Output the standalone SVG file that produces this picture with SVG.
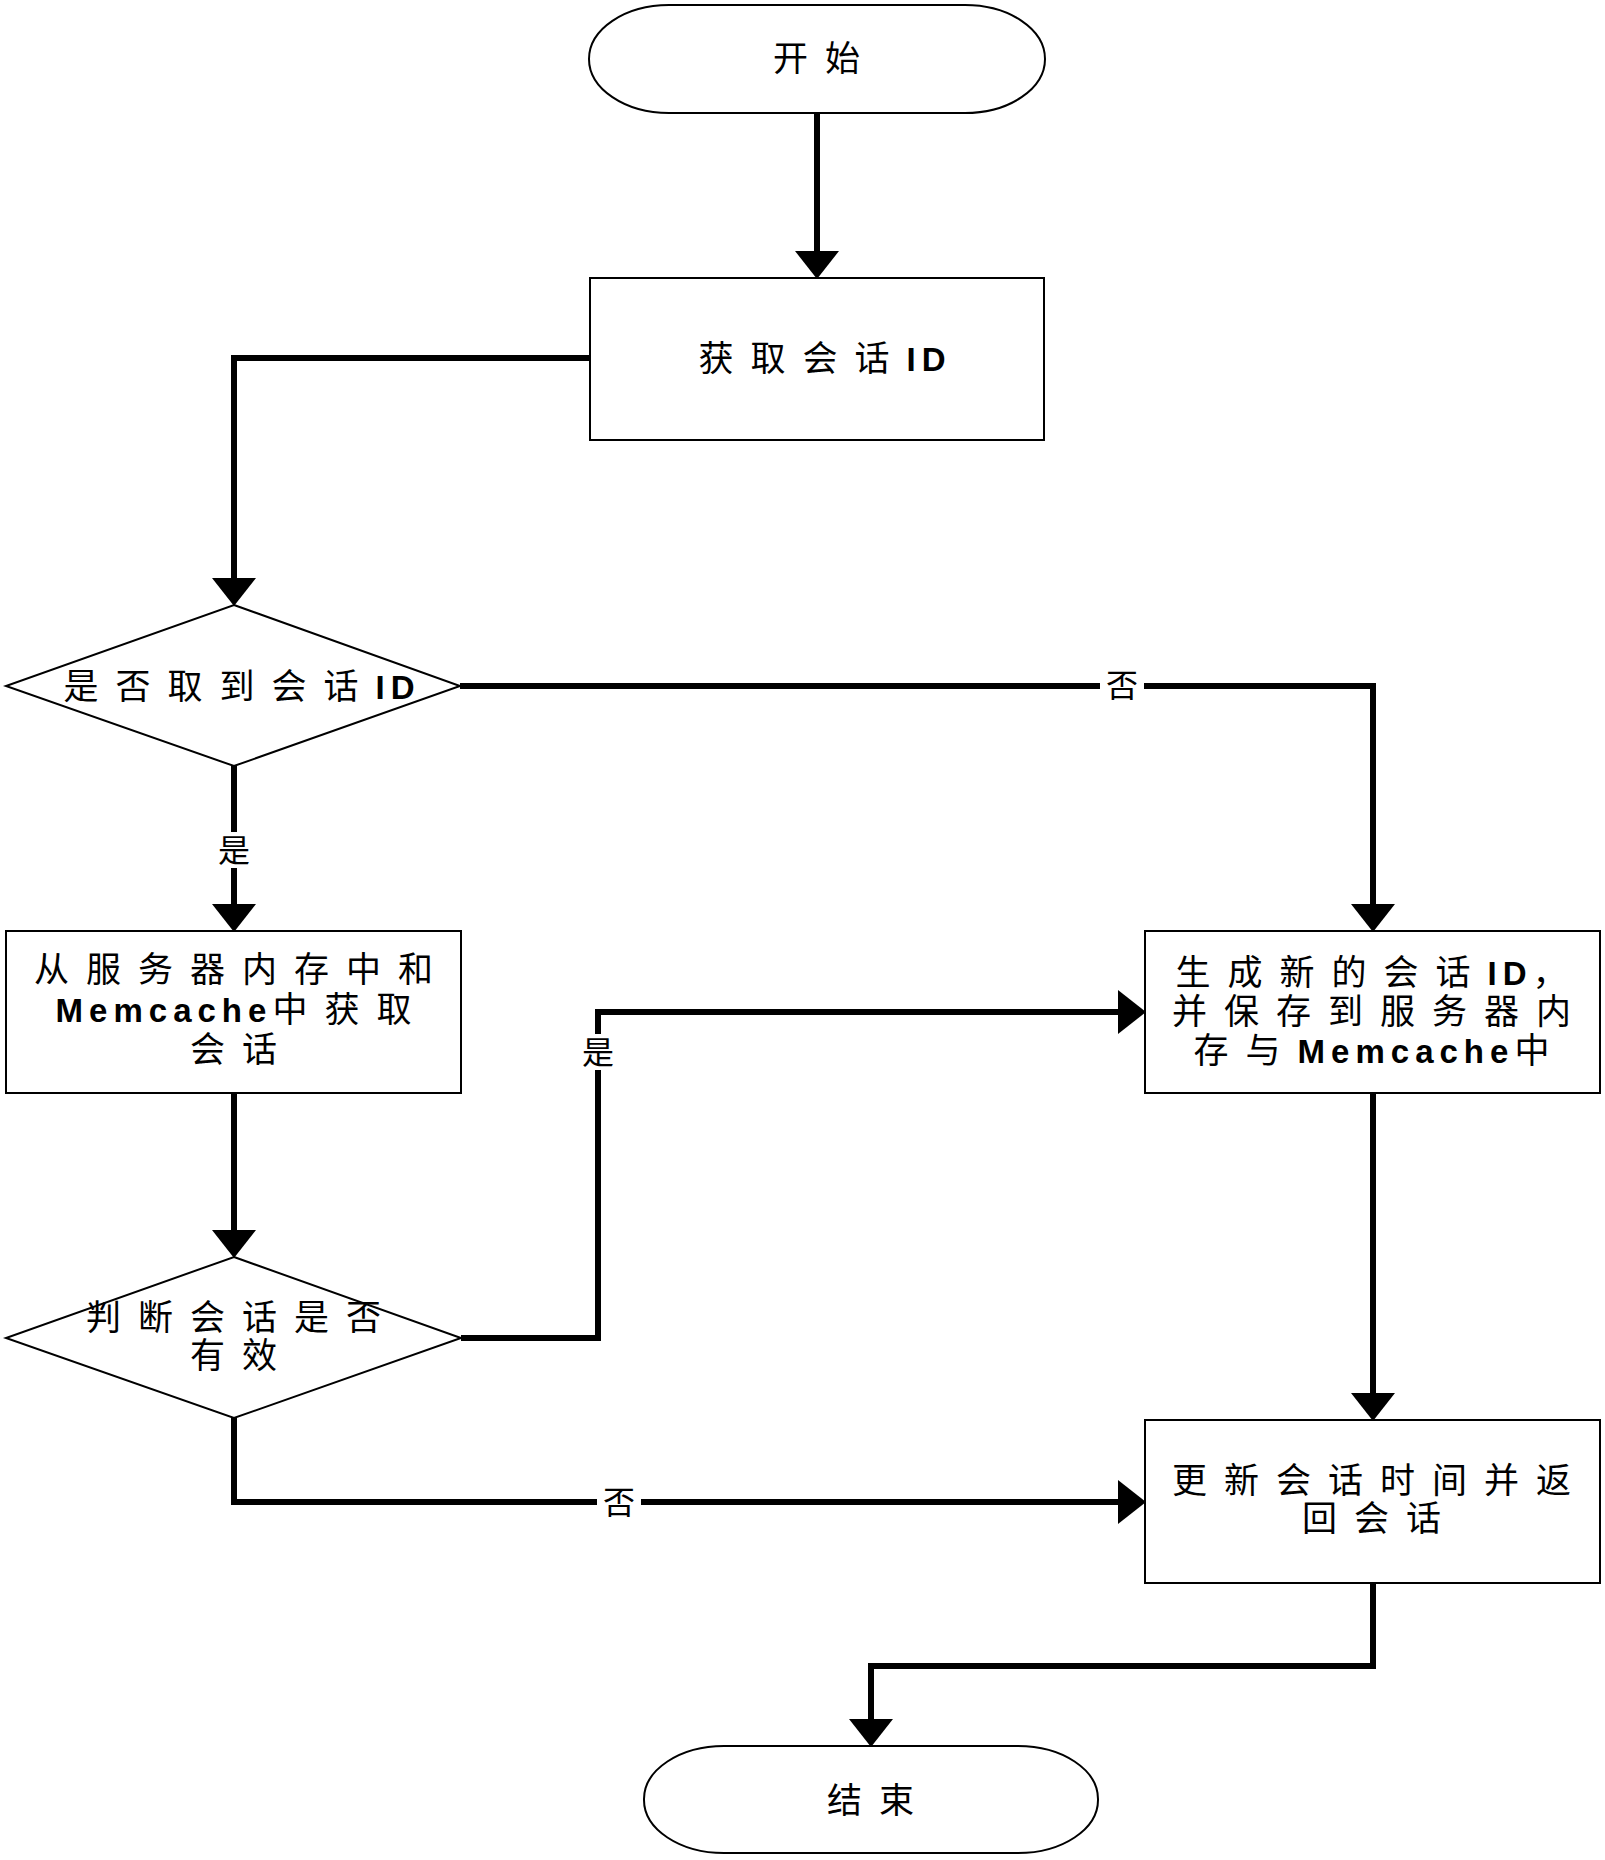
<svg xmlns="http://www.w3.org/2000/svg" width="1605" height="1860" viewBox="0 0 1605 1860">
<style>
.node{fill:#fff;stroke:#000;stroke-width:2}
.conn{fill:none;stroke:#000;stroke-width:6}
.t{font-family:"Noto Sans CJK SC","Liberation Sans",sans-serif;font-size:35px;letter-spacing:17px;fill:#000;text-anchor:middle}
.e{font-family:"Liberation Sans",Arial,sans-serif;font-weight:bold;font-size:33px;letter-spacing:6px}
.lbl{font-family:"Noto Sans CJK SC",sans-serif;font-size:32px;fill:#000;text-anchor:middle}
</style>
<defs>
<marker id="arr" markerUnits="userSpaceOnUse" markerWidth="30" markerHeight="48" refX="0" refY="24" orient="auto" viewBox="0 0 30 48">
<path d="M0,2 L28,24 L0,46 Z" fill="#000"/>
</marker>
</defs>
<rect width="1605" height="1860" fill="#fff"/>
<g id="connectors">
<path class="conn" d="M817,113 V251" marker-end="url(#arr)"/>
<path class="conn" d="M590,358 H234 V578" marker-end="url(#arr)"/>
<path class="conn" d="M460,686 H1373 V904" marker-end="url(#arr)"/>
<path class="conn" d="M234,766 V904" marker-end="url(#arr)"/>
<path class="conn" d="M234,1093 V1230" marker-end="url(#arr)"/>
<path class="conn" d="M461,1338 H598 V1012 H1118" marker-end="url(#arr)"/>
<path class="conn" d="M234,1418 V1502 H1118" marker-end="url(#arr)"/>
<path class="conn" d="M1373,1093 V1393" marker-end="url(#arr)"/>
<path class="conn" d="M1373,1583 V1666 H871 V1719" marker-end="url(#arr)"/>
<rect x="1100" y="668" width="44" height="36" fill="#fff"/>
<text class="lbl" x="1122" y="697">否</text>
<rect x="212" y="832" width="44" height="36" fill="#fff"/>
<text class="lbl" x="234" y="862">是</text>
<rect x="576" y="1034" width="44" height="36" fill="#fff"/>
<text class="lbl" x="598" y="1064">是</text>
<rect x="597" y="1484" width="44" height="36" fill="#fff"/>
<text class="lbl" x="619" y="1514">否</text>
</g>
<g id="start">
<rect class="node" x="589" y="5" width="456" height="108" rx="80" ry="54"/>
<text class="t" x="825" y="71">开始</text>
</g>
<g id="getId">
<rect class="node" x="590" y="278" width="454" height="162"/>
<text class="t" x="825" y="371">获取会话<tspan class="e">ID</tspan></text>
</g>
<g id="hasId">
<polygon class="node" points="234,605 460,686 234,766 6,686"/>
<text class="t" x="242" y="699">是否取到会话<tspan class="e">ID</tspan></text>
</g>
<g id="fetchSession">
<rect class="node" x="6" y="931" width="455" height="162"/>
<text class="t" x="242" y="982">从服务器内存中和</text>
<text class="t" x="242" y="1022"><tspan class="e">Memcache</tspan>中获取</text>
<text class="t" x="242" y="1062">会话</text>
</g>
<g id="validSession">
<polygon class="node" points="234,1257 461,1338 234,1418 6,1338"/>
<text class="t" x="242" y="1330">判断会话是否</text>
<text class="t" x="242" y="1368">有效</text>
</g>
<g id="newSession">
<rect class="node" x="1145" y="931" width="455" height="162"/>
<text class="t" x="1380" y="985">生成新的会话<tspan class="e">ID</tspan>，</text>
<text class="t" x="1380" y="1024">并保存到服务器内</text>
<text class="t" x="1380" y="1063">存与<tspan class="e">Memcache</tspan>中</text>
</g>
<g id="updateSession">
<rect class="node" x="1145" y="1420" width="455" height="163"/>
<text class="t" x="1380" y="1493">更新会话时间并返</text>
<text class="t" x="1380" y="1531">回会话</text>
</g>
<g id="end">
<rect class="node" x="644" y="1746" width="454" height="107" rx="80" ry="53"/>
<text class="t" x="879" y="1813">结束</text>
</g>
</svg>
